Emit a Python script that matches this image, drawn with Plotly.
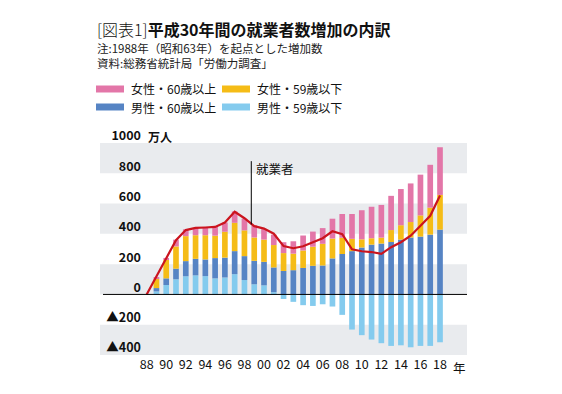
import plotly.graph_objects as go

years = list(range(1988, 2019))

series_names = ["男性・59歳以下", "男性・60歳以上", "女性・59歳以下", "女性・60歳以上"]
series_colors = ["#84CBEE", "#5684C4", "#F5BC17", "#E376A8"]

male_young = [0, 20, 62, 100, 120, 126, 121, 106, 112, 134, 95, 67, 60, 15, -30, -49,
              -71, -76, -65, -80, -135, -232, -269, -298, -322, -340, -336, -349, -340, -340, -316]
male_old = [0, 22, 44, 70, 100, 109, 110, 134, 131, 152, 158, 155, 155, 163, 155, 160,
            175, 189, 191, 238, 267, 286, 310, 329, 336, 346, 362, 376, 382, 395, 428]
female_young = [0, 62, 123, 147, 165, 156, 160, 148, 171, 187, 170, 154, 147, 148, 118, 109,
                115, 126, 143, 131, 107, 81, 54, 42, 39, 79, 95, 102, 140, 178, 229]
female_old = [0, 11, 12, 45, 45, 49, 49, 58, 61, 75, 77, 80, 69, 69, 72, 82,
              99, 100, 104, 131, 157, 164, 192, 208, 216, 226, 239, 255, 269, 283, 315]
employed = [0, 117, 238, 358, 425, 439, 442, 446, 475, 546, 503, 451, 435, 401, 319, 305,
            318, 345, 371, 417, 398, 298, 285, 280, 268, 312, 345, 388, 451, 519, 653]
line_name = "就業者"

y_tickvals = [-400, -200, 0, 200, 400, 600, 800, 1000]
y_ticktext = ["▲400", "▲200", "0", "200", "400", "600", "800", "1000"]
x_tickvals = list(range(1988, 2019, 2))
x_ticktext = [str(y)[2:] for y in x_tickvals]
band_ranges = [(-400, -200), (0, 200), (400, 600), (800, 1000)]

title_light = "[図表1]"
title_bold = "平成30年間の就業者数増加の内訳"
note1 = "注:1988年（昭和63年）を起点とした増加数"
note2 = "資料:総務省統計局「労働力調査」"
unit_text = "万人"
year_unit = "年"

FONT = "Noto Sans CJK JP"
OFF = 8  # page body margin offset
W, H = 562 - OFF, 394 - OFF
ML = 145 - OFF
MT = 143 - OFF
PR = 467 - OFF
PB = 355 - OFF
MR = W - PR
MB = H - PB
PW = W - ML - MR
PH = H - MT - MB


def px(x):
    return (x - OFF - ML) / PW


def py(y):
    return (H - MB - (y - OFF)) / PH


fig = go.Figure()
values = [male_young, male_old, female_young, female_old]
for name, vals, col in zip(series_names, values, series_colors):
    fig.add_trace(go.Bar(x=years, y=vals, name=name, marker=dict(color=col, line=dict(width=0)),
                         showlegend=False))
fig.add_trace(go.Scatter(x=years, y=employed, name=line_name, mode="lines",
                         line=dict(color="#CB141E", width=2.2), showlegend=False))

shapes = []
for lo, hi in band_ranges:
    shapes.append(dict(type="rect", xref="paper", yref="y", x0=px(100), x1=1, y0=lo, y1=hi,
                       fillcolor="#E9EBEE", line=dict(width=0), layer="below"))
shapes.append(dict(type="line", xref="paper", yref="y", x0=px(103), x1=1, y0=0, y1=0,
                   line=dict(color="black", width=1), layer="above"))
shapes.append(dict(type="line", xref="x", yref="y", x0=1998.7, x1=1998.7, y0=462, y1=880,
                   line=dict(color="black", width=1), layer="above"))

legend_order = [3, 2, 1, 0]
legend_pos = [(96, 89), (222, 89), (96, 107), (222, 107)]
annotations = []
for idx, (lx, ly) in zip(legend_order, legend_pos):
    shapes.append(dict(type="rect", xref="paper", yref="paper", x0=px(lx), x1=px(lx + 28),
                       y0=py(ly + 3.5), y1=py(ly - 3.5), fillcolor=series_colors[idx],
                       line=dict(width=0)))
    annotations.append(dict(xref="paper", yref="paper", x=px(lx + 33), y=py(ly), xanchor="left",
                            yanchor="middle", text=series_names[idx], showarrow=False,
                            font=dict(family=FONT, size=12, color="#111")))

annotations.append(dict(xref="paper", yref="paper", x=px(95), y=py(29), xanchor="left",
                        yanchor="middle", showarrow=False,
                        text="<span style='font-weight:300'>" + title_light + "</span><b>" + title_bold + "</b>",
                        font=dict(family=FONT, size=16, color="#111")))
annotations.append(dict(xref="paper", yref="paper", x=px(95), y=py(47.5), xanchor="left",
                        yanchor="middle", showarrow=False, text=note1,
                        font=dict(family=FONT, size=11.5, color="#222")))
annotations.append(dict(xref="paper", yref="paper", x=px(95), y=py(63), xanchor="left",
                        yanchor="middle", showarrow=False, text=note2,
                        font=dict(family=FONT, size=11.5, color="#222")))
annotations.append(dict(xref="paper", yref="y", x=px(146), y=1000, yshift=7, xanchor="left",
                        yanchor="middle", showarrow=False, text=unit_text,
                        font=dict(family=FONT, size=12, color="#111", weight="bold")))
annotations.append(dict(xref="x", yref="y", x=1998.7, y=830, xshift=3, xanchor="left",
                        yanchor="middle", showarrow=False, text=line_name,
                        font=dict(family=FONT, size=12.5, color="#111")))
annotations.append(dict(xref="x", yref="paper", x=2019.95, y=py(367), xanchor="center",
                        yanchor="middle", showarrow=False, text=year_unit,
                        font=dict(family=FONT, size=12.5, color="#111")))

fig.update_layout(
    width=W, height=H,
    margin=dict(l=ML, r=MR, t=MT, b=MB, pad=0),
    paper_bgcolor="white", plot_bgcolor="rgba(0,0,0,0)",
    barmode="relative", bargap=0.42,
    shapes=shapes, annotations=annotations,
    font=dict(family=FONT),
    xaxis=dict(range=[1987.83, 2020.76], tickvals=x_tickvals, ticktext=x_ticktext,
               showgrid=False, zeroline=False, showline=False, ticks="",
               tickfont=dict(family=FONT, size=12.5, color="#111")),
    yaxis=dict(range=[-400, 1000], tickvals=y_tickvals, ticktext=y_ticktext,
               showgrid=False, zeroline=False, showline=False, ticks="",
               ticklabelshift=-7, ticklabelstandoff=3,
               tickfont=dict(family=FONT, size=12.5, color="#111", weight="bold")),
)

fig.write_html("out.html")
